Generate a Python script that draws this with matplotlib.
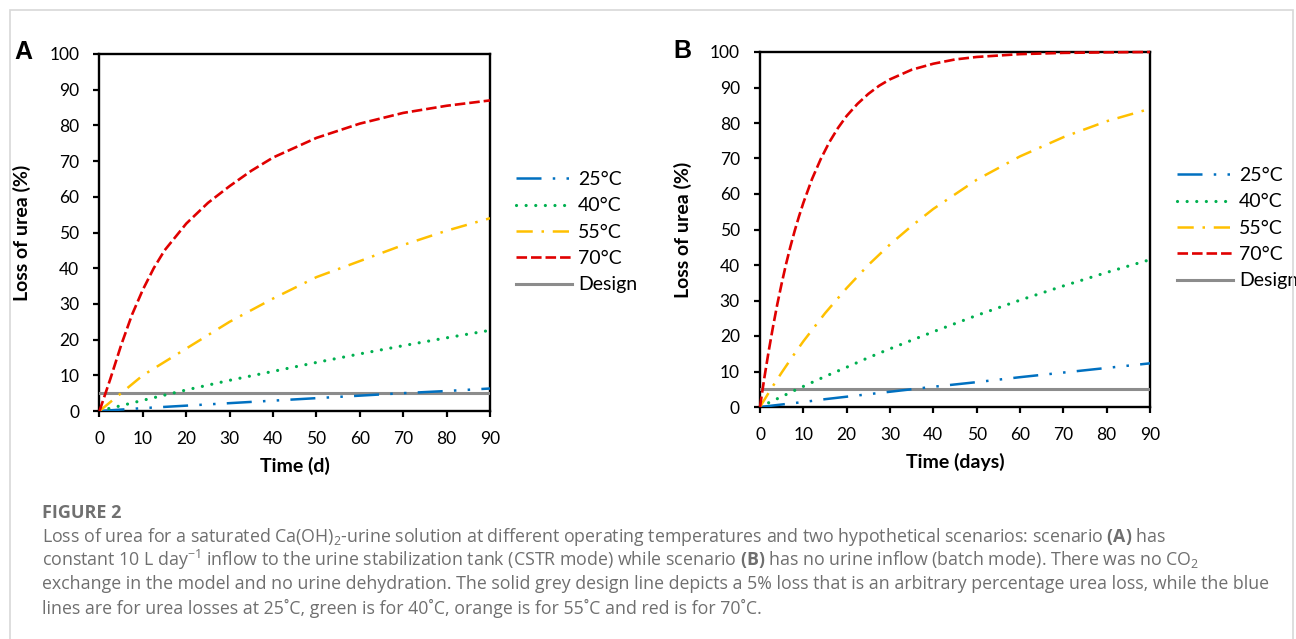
import matplotlib
matplotlib.use('Agg')
import matplotlib.pyplot as plt
from matplotlib.patches import Rectangle

plt.rcParams['font.family'] = ['Lato', 'DejaVu Sans']
plt.rcParams['mathtext.fontset'] = 'custom'
plt.rcParams['mathtext.rm'] = 'Open Sans'
plt.rcParams['mathtext.it'] = 'Open Sans:italic'
plt.rcParams['mathtext.bf'] = 'Open Sans:bold'

# --- data ---
# panel A (CSTR mode)
tA_red = [0, 1, 2.5, 5, 7.5, 10, 12.5, 15, 20, 25, 30, 35, 40, 50, 60, 70, 80, 90]
a70 = [0, 3.6, 9, 18.5, 27, 34, 40, 45, 52.5, 58.3, 63, 67.3, 71, 76.5, 80.5, 83.5, 85.5, 87]
tA = [0, 2.5, 5, 10, 20, 30, 40, 50, 60, 70, 80, 90]
a55 = [0, 2.5, 5, 10, 17.5, 25, 31.5, 37.5, 42, 46.5, 50.5, 54]
a40 = [0, 0.8, 1.5, 3.0, 5.9, 8.6, 11.1, 13.6, 16, 18.3, 20.5, 22.6]
a25 = [0, 0.2, 0.4, 0.8, 1.5, 2.2, 2.9, 3.6, 4.3, 5.0, 5.6, 6.3]

# panel B (batch mode)
tB_red = [0, 1, 2, 3, 4, 5, 6, 7, 8, 9, 10, 12, 14, 16, 18, 20, 22.5, 25,
          27.5, 30, 35, 40, 45, 50, 60, 70, 80, 90]
b70 = [0, 8.2, 15.7, 22.6, 29.0, 34.8, 40.2, 45.1, 49.6, 53.7, 57.5, 64.2,
       69.8, 74.6, 78.6, 82.0, 85.4, 88.2, 90.5, 92.3, 95.0, 96.7, 97.9,
       98.6, 99.4, 99.75, 99.9, 100]
tB = [0, 2.5, 5, 7.5, 10, 15, 20, 25, 30, 35, 40, 50, 60, 70, 80, 90]
b55 = [0, 5, 9.7, 14.2, 18.5, 26.4, 33.5, 40, 45.8, 51, 55.8, 64, 70.6, 76, 80.5, 84]
b40 = [0, 1.5, 2.9, 4.4, 5.8, 8.6, 11.2, 13.9, 16.4, 18.8, 21.2, 25.8, 30.1, 34.1, 37.9, 41.5]
b25 = [0, 0.35, 0.7, 1.05, 1.4, 2.2, 2.9, 3.6, 4.3, 5.0, 5.7, 7.0, 8.4, 9.7, 11.0, 12.3]

design_t = [0, 90]
design = [5, 5]

labels = ['25°C', '40°C', '55°C', '70°C', 'Design']
xticks = list(range(0, 91, 10))
yticks = list(range(0, 101, 10))

W, H = 1296, 639
fig = plt.figure(figsize=(W / 100, H / 100), dpi=100)

# light frame round the whole figure
fig.patches.append(Rectangle((9.5 / W, -0.1), (1293 - 9.5) / W, 1.1 - 9.5 / H,
                             transform=fig.transFigure, fill=False,
                             edgecolor='#d8d8d8', linewidth=1.2))


def px_axes(l, t, r, b):
    return fig.add_axes([l / W, 1 - b / H, (r - l) / W, (b - t) / H])


def draw_panel(ax, tr, red, t, y55, y40, y25, xlabel, leg_x, leg_y):
    h25, = ax.plot(t, y25, color='#0070C0', lw=1.8,
                   linestyle=(0, (10, 4.5, 1, 4.5, 1, 4.5)), zorder=3)
    h40, = ax.plot(t, y40, color='#00B050', lw=2.3,
                   linestyle=(0, (0.01, 3.0)), dash_capstyle='round', zorder=3)
    h55, = ax.plot(t, y55, color='#FFC000', lw=1.8,
                   linestyle=(0, (6.5, 3.5, 1, 3.5)), zorder=3)
    h70, = ax.plot(tr, red, color='#E00000', lw=1.9,
                   linestyle=(0, (4, 1.5)), zorder=3, clip_on=False)
    hd, = ax.plot(design_t, design, color='#8c8c8c', lw=2.2, zorder=2.8)
    ax.set_xlim(0, 90)
    ax.set_ylim(0, 100)
    ax.set_xticks(xticks)
    ax.set_yticks(yticks)
    ax.tick_params(direction='out', length=4.5, width=1.6, labelsize=12.5,
                   pad=10)
    for s in ax.spines.values():
        s.set_linewidth(1.7)
        s.set_color('black')
    ax.set_xlabel(xlabel, fontsize=14, fontweight='bold')
    ax.set_ylabel('Loss of urea (%)', fontsize=14, fontweight='bold')
    ax.yaxis.set_label_coords(-0.175, 0.5)
    ax.xaxis.set_label_coords(0.5, -0.128)
    ax.legend([h25, h40, h55, h70, hd], labels, loc='upper left',
              bbox_to_anchor=(leg_x / W, 1 - leg_y / H),
              bbox_transform=fig.transFigure, frameon=False, fontsize=14,
              handlelength=2.9, handletextpad=0.3, labelspacing=0.48,
              borderaxespad=0, borderpad=0)


axA = px_axes(99.5, 54, 490, 411)
draw_panel(axA, tA_red, a70, tA, a55, a40, a25, 'Time (d)', 516, 171)
axB = px_axes(760, 52, 1150, 407)
draw_panel(axB, tB_red, b70, tB, b55, b40, b25, 'Time (days)', 1177, 167)

fig.text(14 / W, 1 - 52 / H, 'A', fontsize=18, fontweight='bold',
         family='Liberation Sans', va='center', ha='left')
fig.text(673 / W, 1 - 51 / H, 'B', fontsize=18, fontweight='bold',
         family='Liberation Sans', va='center', ha='left')

# caption
cap_color = '#6f6f6f'
fig.text(42 / W, 1 - 513 / H, 'FIGURE 2', fontsize=13, fontweight='bold',
         family=['Open Sans', 'DejaVu Sans'], color='#707070', va='center')
caption = [
    r'Loss of urea for a saturated Ca(OH)$_2$-urine solution at different operating temperatures and two hypothetical scenarios: scenario $\mathbf{(A)}$ has',
    r'constant 10 L day$^{-1}$ inflow to the urine stabilization tank (CSTR mode) while scenario $\mathbf{(B)}$ has no urine inflow (batch mode). There was no CO$_2$',
    'exchange in the model and no urine dehydration. The solid grey design line depicts a 5% loss that is an arbitrary percentage urea loss, while the blue',
    'lines are for urea losses at 25˚C, green is for 40˚C, orange is for 55˚C and red is for 70˚C.',
]
cap_y = [537, 560, 584, 608]
for line, y in zip(caption, cap_y):
    fig.text(42 / W, 1 - y / H, line, fontsize=12.8,
             family=['Open Sans', 'DejaVu Sans'], color=cap_color, va='center')

fig.savefig('out.png', dpi=100)
